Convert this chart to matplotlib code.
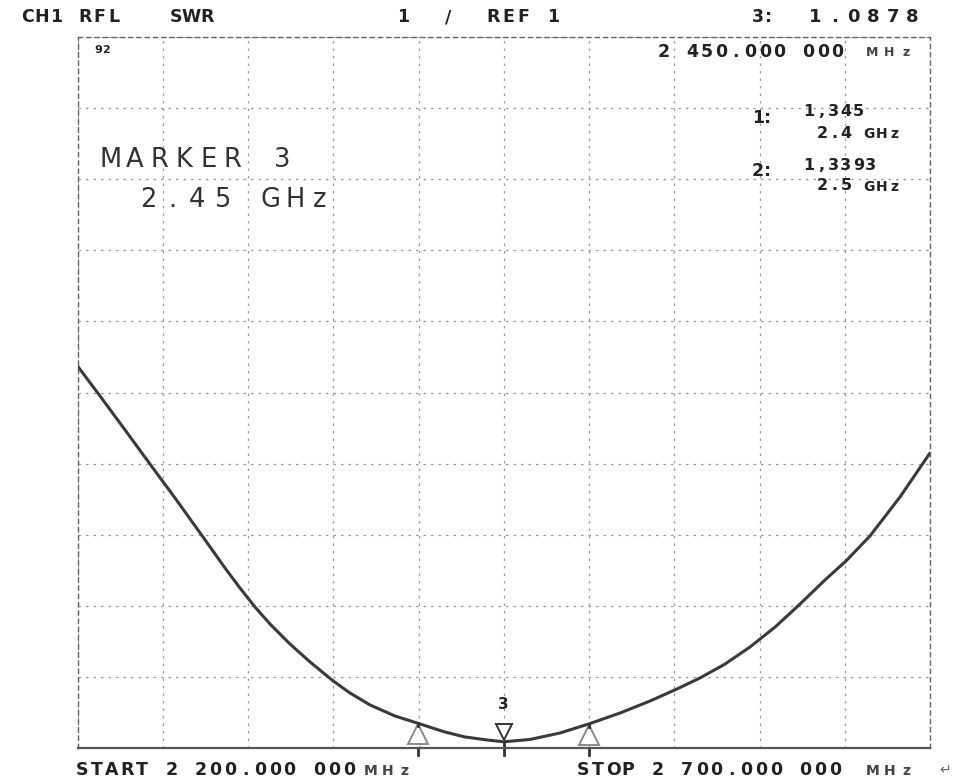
import numpy as np
import matplotlib.pyplot as plt

# SWR trace (2.2 - 2.7 GHz, ref 1, 1 unit/div)
freq_ghz = [2.200, 2.2132, 2.2279, 2.2425, 2.2572, 2.2736, 2.2865, 2.2953, 2.3041, 2.3129,
            2.3246, 2.3364, 2.350, 2.3598, 2.3716, 2.3862, 2.400, 2.4155, 2.4273, 2.4402,
            2.450, 2.4654, 2.4830, 2.500, 2.5182, 2.5358, 2.5516, 2.5651, 2.5798, 2.5944,
            2.6091, 2.6238, 2.6384, 2.6507, 2.6648, 2.6824, 2.6988, 2.700]
swr = [6.373, 5.951, 5.473, 4.994, 4.516, 3.968, 3.532, 3.250, 2.983, 2.744,
       2.463, 2.210, 1.942, 1.774, 1.605, 1.450, 1.345, 1.225, 1.155, 1.113,
       1.0878, 1.120, 1.211, 1.3393, 1.492, 1.661, 1.830, 1.985, 2.181, 2.420,
       2.700, 3.025, 3.363, 3.630, 3.982, 4.530, 5.107, 5.149]

marker_ids = ['1', '2', '3']
marker_freq = [2.40, 2.50, 2.45]
marker_swr = [1.345, 1.3393, 1.0878]

W, H = 955, 783
fig = plt.figure(figsize=(W / 100, H / 100), dpi=100)
ax = fig.add_axes([77.5 / W, 1 - 748 / H, 852.5 / W, 711 / H])

ax.set_xlim(2.2, 2.7)
ax.set_ylim(1, 11)
ax.set_xticks(np.linspace(2.2, 2.7, 11))
ax.set_yticks(np.arange(1, 12, 1))
ax.tick_params(length=0, labelbottom=False, labelleft=False)
ax.grid(True, color='#9a9a9a', linestyle=(0, (2, 4)), linewidth=0.9)
for s in ax.spines.values():
    s.set_linestyle((0, (3, 3)))
    s.set_color('#666666')
    s.set_linewidth(1.0)
ax.spines['bottom'].set_linestyle((0, (6, 1)))
ax.spines['bottom'].set_color('#555555')
ax.spines['bottom'].set_linewidth(1.6)

ax.plot(freq_ghz, swr, color='#3a3a3a', linewidth=2.2, solid_capstyle='round',
        solid_joinstyle='round')

# marcadores
for mid, f, v in zip(marker_ids, marker_freq, marker_swr):
    if mid == '3':
        ax.plot(f, v + 0.14, marker='v', markersize=12, markerfacecolor='white',
                markeredgecolor='#333333', markeredgewidth=1.4)
        ax.plot([f, f], [0.9, v], color='#333333', linewidth=2, clip_on=False)
        ax.text(f, v + 0.42, mid, ha='center', va='bottom', fontsize=11,
                fontweight='bold', family='DejaVu Sans', color='#222222')
    else:
        ax.plot(f, v - 0.15, marker='^', markersize=14, markerfacecolor='white',
                markeredgecolor='#8a8a8a', markeredgewidth=1.4)
        ax.plot([f, f], [0.9, 1.0], color='#333333', linewidth=2, clip_on=False)
        ax.plot([f, f], [v - 0.04, v], color='#333333', linewidth=2)


def spaced(x, y, s, pitch, size=12.5, weight='bold', color='#222222'):
    # texto de plotter: cada caractere centrado na sua celula (pixels)
    for i, c in enumerate(s):
        if c != ' ':
            fig.text((x + (i + 0.5) * pitch) / W, 1 - y / H, c, fontsize=size,
                     fontweight=weight, family='DejaVu Sans', color=color,
                     ha='center', va='center')


spaced(20, 17, 'CH1 RFL', 14.5)
spaced(168, 17, 'SWR', 15.5)
spaced(396, 17, '1  /  REF 1', 15)
spaced(752, 17, '3:', 11)
spaced(805, 17, '1.0878', 19.5, size=13)
spaced(94, 50, '92', 8, size=8)
spaced(656, 52, '2 450.000 000', 14.5)
spaced(864, 53, 'MHz', 17, size=9, color='#444444')

spaced(753, 118, '1:', 10)
spaced(802, 111, '1,345', 12.5, size=11.5)
spaced(816, 133, '2.4', 12, size=11.5)
spaced(862, 134, 'GHz', 13, size=10)
spaced(753, 171, '2:', 10)
spaced(802, 166, '1,3393', 12.5, size=11.5)
spaced(816, 186, '2.5', 12, size=11.5)
spaced(862, 187, 'GHz', 13, size=10)

spaced(98, 160, 'MARKER 3', 24.5, size=18.5, weight='normal', color='#333333')
spaced(136, 200, '2.45 GHz', 24.5, size=18.5, weight='normal', color='#333333')

spaced(75, 770, 'START 2 200.000 000', 14.8)
spaced(362, 771, 'MHz', 17, size=10, color='#444444')
spaced(576, 770, 'STOP 2 700.000 000', 14.8)
spaced(864, 771, 'MHz', 17, size=10, color='#444444')
fig.text(945 / W, 1 - 770 / H, '\u21b5', fontsize=10, va='center', ha='center', color='#666666')

fig.savefig('out.png', dpi=100, facecolor='white')
